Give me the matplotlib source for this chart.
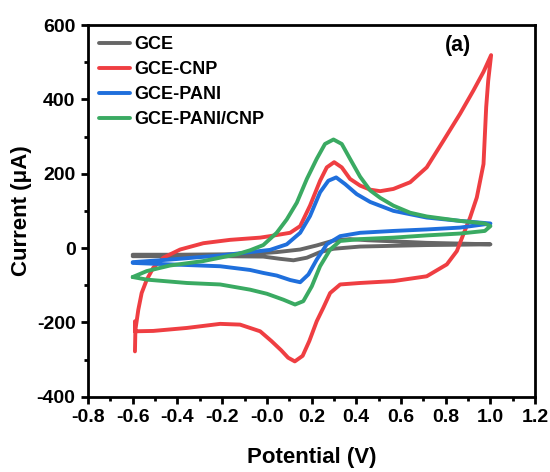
import numpy as np
import matplotlib.pyplot as plt

# CV loops: potential (V) and current (uA)
gce_v = [-0.6, -0.4, -0.2, -0.075, 0.044, 0.149, 0.223, 0.298, 0.372, 0.45, 0.566, 0.715, 0.864, 1.0,
         0.864, 0.715, 0.566, 0.417, 0.298, 0.238, 0.179, 0.119, 0.059, -0.016, -0.2, -0.4, -0.6]
gce_i = [-18, -18, -17, -16, -11, -4, 7, 20, 24, 21, 18, 14, 12, 10,
         9, 8, 6, 4, -2, -11, -26, -33, -29, -23, -22, -22, -22]

cnp_v = [-0.59, -0.588, -0.575, -0.56, -0.537, -0.508, -0.463, -0.388, -0.284, -0.165, -0.03,
         0.014, 0.104, 0.149, 0.193, 0.238, 0.268, 0.301, 0.335, 0.372, 0.417, 0.462, 0.507,
         0.566, 0.641, 0.715, 0.79, 0.864, 0.924, 0.969, 1.003,
         0.99, 0.981, 0.969, 0.939, 0.909, 0.879, 0.85, 0.805, 0.715, 0.566, 0.417, 0.328, 0.283,
         0.253, 0.223, 0.19, 0.16, 0.125, 0.095, 0.064, 0.02, -0.03, -0.12, -0.209, -0.358,
         -0.508, -0.59, -0.59]
cnp_i = [-278, -220, -166, -121, -85, -53, -26, -4, 13, 22, 28,
         32, 41, 59, 114, 181, 217, 231, 217, 186, 168, 157, 153,
         159, 177, 217, 289, 361, 424, 474, 519,
         450, 379, 226, 136, 82, 37, -8, -44, -76, -89, -94, -98, -121,
         -160, -197, -250, -290, -305, -295, -275, -250, -224, -206, -204, -215,
         -223, -224, -197]

pani_v = [-0.6, -0.433, -0.209, -0.075, 0.014, 0.089, 0.149, 0.193, 0.238, 0.275, 0.31,
          0.35, 0.402, 0.462, 0.566, 0.715, 0.864, 1.0,
          0.864, 0.715, 0.566, 0.417, 0.328, 0.268, 0.223, 0.186, 0.149, 0.104, 0.044,
          -0.016, -0.075, -0.209, -0.433, -0.6]
pani_i = [-38, -31, -20, -11, -5, 10, 41, 86, 150, 181, 190,
          172, 145, 124, 100, 82, 73, 66,
          55, 50, 46, 41, 32, 10, -31, -71, -92, -86, -74,
          -67, -59, -49, -44, -40]

pc_v = [-0.6, -0.537, -0.433, -0.284, -0.135, -0.075, -0.016, 0.044, 0.089, 0.134, 0.179,
        0.223, 0.26, 0.298, 0.335, 0.372, 0.417, 0.462, 0.507, 0.566, 0.641, 0.715, 0.864,
        0.975, 1.0,
        0.975, 0.864, 0.715, 0.566, 0.417, 0.328, 0.283, 0.238, 0.201, 0.163, 0.126, 0.074,
        0.0, -0.075, -0.209, -0.358, -0.537, -0.6]
pc_i = [-78, -62, -47, -35, -17, -6, 8, 41, 77, 122, 186,
        240, 280, 292, 280, 240, 192, 155, 135, 114, 95, 85, 73,
        66, 59,
        46, 39, 34, 28, 24, 19, -4, -49, -103, -143, -152, -139,
        -123, -112, -98, -94, -85, -78]

labels = ['GCE', 'GCE-CNP', 'GCE-PANI', 'GCE-PANI/CNP']
colors = ['#666666', '#ef3e42', '#1f6fdc', '#3aaa62']

plt.rcParams['font.family'] = ['Liberation Sans', 'DejaVu Sans']
plt.rcParams['font.weight'] = 'bold'
plt.rcParams['axes.unicode_minus'] = False

fig = plt.figure(figsize=(5.5, 4.72), dpi=100)
ax = fig.add_axes([0.16, 0.1595, 0.813, 0.7875])

for v, i, lab, c in zip([gce_v, cnp_v, pani_v, pc_v], [gce_i, cnp_i, pani_i, pc_i], labels, colors):
    ax.plot(v, i, color=c, lw=2.8, label=lab, solid_joinstyle='round', solid_capstyle='round')

ax.set_xlim(-0.8, 1.2)
ax.set_ylim(-400, 600)
xt = np.arange(-0.8, 1.21, 0.2)
ax.set_xticks(xt)
ax.set_xticklabels(['%.1f' % t for t in xt])
ax.set_xticks(np.arange(-0.7, 1.2, 0.2), minor=True)
ax.set_yticks([-400, -200, 0, 200, 400, 600])
ax.set_yticks([-300, -100, 100, 300, 500], minor=True)
ax.tick_params(which='major', direction='out', length=5, width=2, labelsize=14, pad=4)
ax.tick_params(which='minor', direction='out', length=3, width=2)
for s in ax.spines.values():
    s.set_linewidth(2)

ax.set_xlabel('Potential (V)', fontsize=16, fontweight='bold', labelpad=15)
ax.set_ylabel('Current (\u03bcA)', fontsize=16, fontweight='bold', labelpad=3)

ax.legend(loc='upper left', frameon=False, handlelength=1.7,
          handletextpad=0.28, labelspacing=0.45, borderaxespad=0.2,
          prop={'weight': 'bold', 'size': 13})
ax.text(0.828, 0.944, '(a)', transform=ax.transAxes, fontsize=15.5, fontweight='bold',
        ha='center', va='center')

fig.savefig('out.png', dpi=100)
